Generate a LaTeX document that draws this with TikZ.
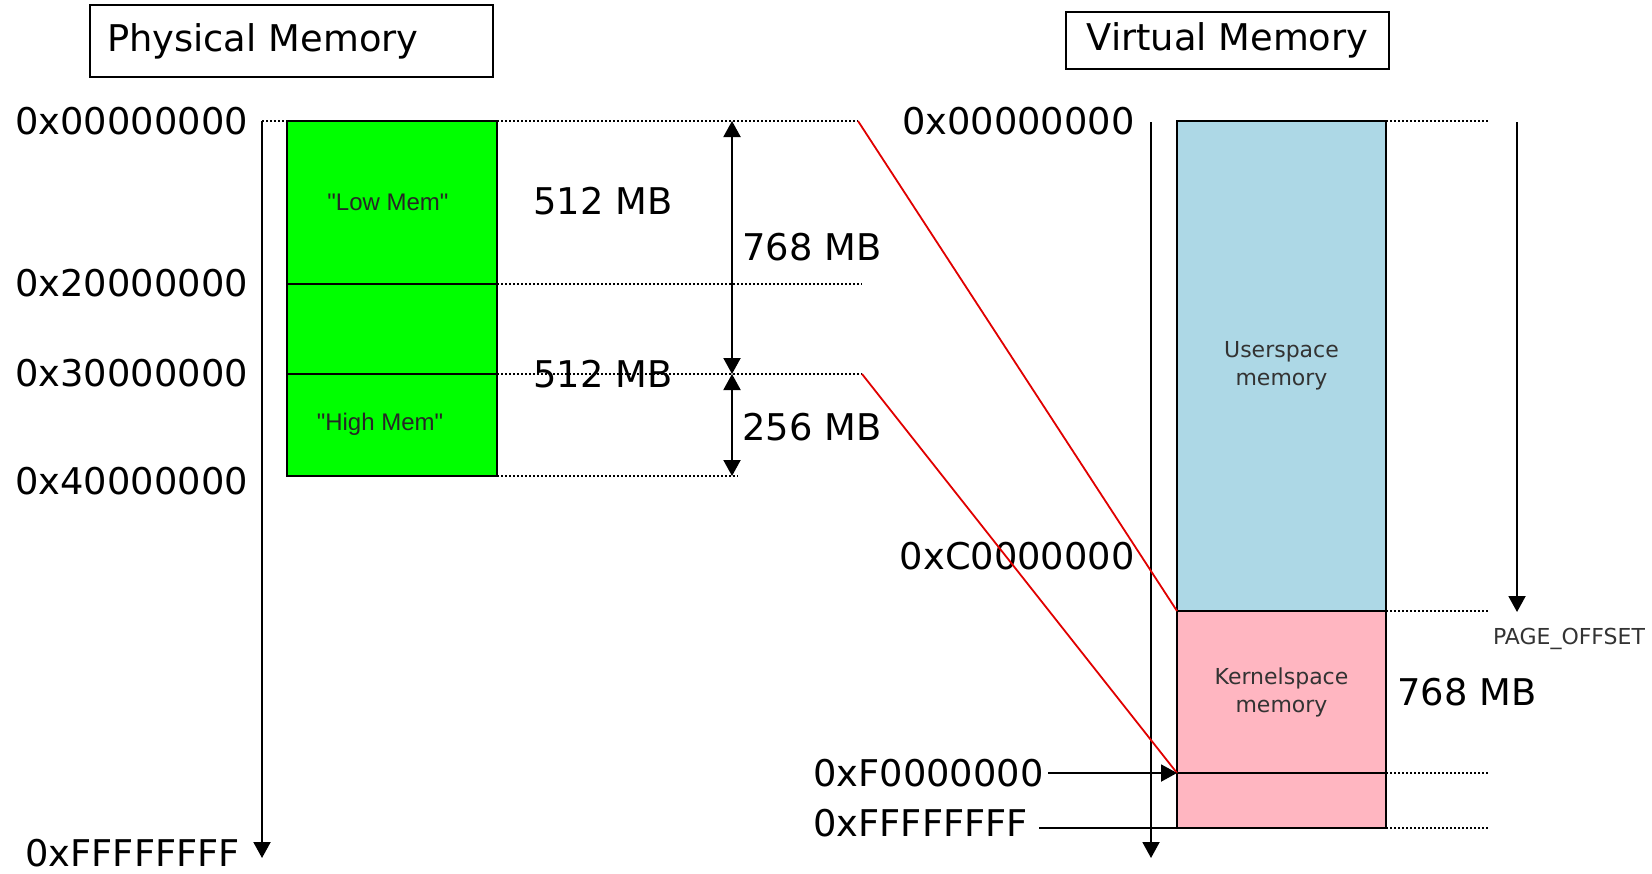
\documentclass[tikz,border=0pt]{standalone}
\usepackage{fontspec}
\setmainfont{DejaVu Sans}
\newfontfamily\arialf{Liberation Sans}
\usetikzlibrary{arrows.meta}
\definecolor{memgreen}{HTML}{00FF00}
\definecolor{userblue}{HTML}{ADD8E6}
\definecolor{kernpink}{HTML}{FFB6C1}
\definecolor{linkred}{HTML}{E00000}
\definecolor{softtext}{HTML}{333333}
\begin{document}
\begin{tikzpicture}[x=0.5pt,y=-0.5pt,
  big/.style={font=\fontsize{18.4}{21}\selectfont, inner sep=0pt},
  block/.style={draw=black, line width=1pt, inner sep=0pt, outer sep=0pt},
  inblock/.style={font=\fontsize{11}{14}\selectfont, text=softtext, align=center},
  greentext/.style={font=\arialf\fontsize{12}{14}\selectfont, text=black!85, inner sep=0pt},
  axis/.style={line width=1pt, -{Triangle[length=8pt,width=8.5pt]}},
  dim/.style={line width=1pt, {Triangle[length=8pt,width=8.5pt]}-{Triangle[length=8pt,width=8.5pt]}},
  guide/.style={line width=1.1pt, dash pattern=on 1pt off 1pt},
  maplink/.style={draw=linkred, line width=0.9pt},
  titlebox/.style={draw=black, line width=1pt, font=\fontsize{18.4}{21}\selectfont}
]
\useasboundingbox (0,0) rectangle (1652,873);

% titles
\node[titlebox, minimum width=201.5pt, minimum height=36pt, inner xsep=8.5pt, text width=184.5pt, align=left] (phys) at (291.5,41) {Physical Memory};
\node[titlebox, minimum width=161.5pt, minimum height=28.5pt, inner sep=0pt] (virt) at (1227.5,40.5) {Virtual Memory};

% ---------- physical side ----------
\coordinate (ptop) at (262,121);
\coordinate (pend) at (262,858);
\draw[axis] (ptop) -- (pend);

\node[block, fill=memgreen, minimum width=105pt, minimum height=81.5pt] (low) at (392,202.5) {};
\node[block, fill=memgreen, minimum width=105pt, minimum height=45pt] (mid) at (392,329) {};
\node[block, fill=memgreen, minimum width=105pt, minimum height=51pt] (high) at (392,425) {};
\node[greentext] (lowt) at (388,202) {"Low Mem"};
\node[greentext] (hight) at (380,424) {"High Mem"};

\node[big, anchor=west] (p0) at (15,121) {0x00000000};
\node[big, anchor=west] (p2) at (15,283) {0x20000000};
\node[big, anchor=west] (p3) at (15,373) {0x30000000};
\node[big, anchor=west] (p4) at (15,481) {0x40000000};
\node[big, anchor=west] (pF) at (25,853) {0xFFFFFFFF};

\coordinate (d1) at (858,121);
\coordinate (d2) at (862,284);
\coordinate (d3) at (862,374);
\coordinate (d4) at (738,476);
\draw[guide] (ptop) -- (low.north west);
\draw[guide] (low.north east) -- (d1);
\draw[guide] (low.south east) -- (d2);
\draw[guide] (mid.south east) -- (d3);
\draw[guide] (high.south east) -- (d4);

\coordinate (a1) at (732,121);
\coordinate (a2) at (732,374);
\coordinate (a3) at (732,476);
\draw[dim] (a1) -- (a2);
\draw[dim] (a2) -- (a3);

\node[big, anchor=west] (s512a) at (533,201) {512 MB};
\node[big, anchor=west] (s512b) at (533,374) {512 MB};
\node[big, anchor=west] (s768) at (742,247) {768 MB};
\node[big, anchor=west] (s256) at (742,427) {256 MB};

% ---------- virtual side ----------
\coordinate (vtop) at (1151,122);
\coordinate (vend) at (1151,858);
\draw[axis] (vtop) -- (vend);

\node[block, fill=userblue, minimum width=104.5pt, minimum height=245pt, inblock] (user) at (1281.5,366) {Userspace\\memory};
\node[block, fill=kernpink, minimum width=104.5pt, minimum height=81pt, inblock] (kern) at (1281.5,692) {Kernelspace\\memory};
\node[block, fill=kernpink, minimum width=104.5pt, minimum height=27.5pt] (kern2) at (1281.5,800.5) {};

\node[big, anchor=east] (v0) at (1135,121) {0x00000000};
\node[big, anchor=east] (vC) at (1135,556) {0xC0000000};
\node[big, anchor=west] (vF) at (813,773) {0xF0000000};
\node[big, anchor=west] (vFF) at (813,823) {0xFFFFFFFF};
\node[big, anchor=west] (v768) at (1397,692) {768 MB};

\coordinate (r1) at (1489,121);
\coordinate (r2) at (1488,611);
\coordinate (r3) at (1488,773);
\coordinate (r4) at (1488,828);
\draw[guide] (user.north east) -- (r1);
\draw[guide] (user.south east) -- (r2);
\draw[guide] (kern.south east) -- (r3);
\draw[guide] (kern2.south east) -- (r4);

\coordinate (po1) at (1517,122);
\coordinate (po2) at (1517,612);
\draw[axis] (po1) -- (po2);
\node[font=\fontsize{11}{13}\selectfont, text=softtext, inner sep=0pt] (pageoff) at (1569,639) {PAGE\_OFFSET};

\draw[maplink] (d1) -- (user.south west);
\draw[maplink] (d3) -- (kern.south west);

\draw[line width=1pt, -{Triangle[length=8pt,width=8.5pt]}] ([xshift=2pt]vF.east) -- (kern.south west);
\coordinate (fstart) at (1039,828);
\draw[line width=1pt] (fstart) -- (kern2.south west);
\end{tikzpicture}
\end{document}
